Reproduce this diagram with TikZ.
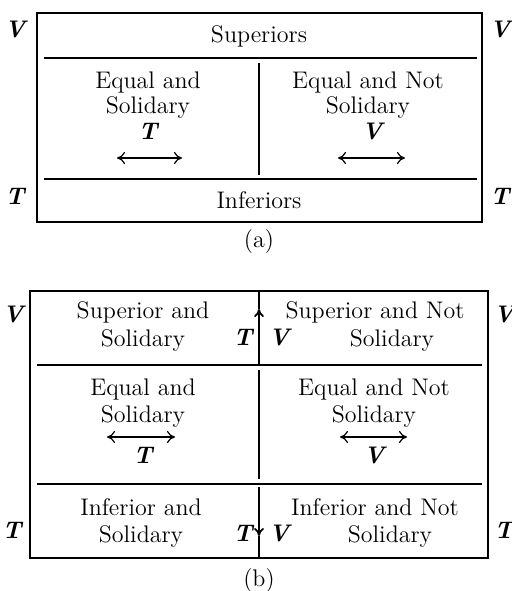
\documentclass[tikz,border=0pt]{standalone}
\usetikzlibrary{arrows.meta}

\begin{document}
\begin{tikzpicture}[
x=0.5pt, y=-0.5pt,
txt/.style={anchor=base, inner sep=0pt, font=\fontsize{12}{13}\selectfont},
letter/.style={anchor=base, inner sep=0pt, font=\fontsize{12}{13}\selectfont\bfseries\itshape},
rule/.style={line width=0.9pt},
arrow/.style={{To[length=4pt,width=6pt]}-{To[length=4pt,width=6pt]},line width=0.6pt},
varrow/.style={-{To[length=4pt,width=5pt]},line width=0.9pt} ]

\useasboundingbox (0,0) rectangle (512,591);

% (a)
\draw[rule] (37,13) rectangle (482,222);
\draw[rule] (44,58) -- (477,58);
\draw[rule] (44,179) -- (477,179);
\draw[rule] (259,63) -- (259,175);

\node[letter] (aVl) at (15,37) {V};
\node[letter] (aVr) at (500,37) {V};
\node[letter] (aTl) at (15,204) {T};
\node[letter] (aTr) at (500,204) {T};

\node[txt] (aSup) at (259,42) {Superiors};

\node[txt] (aEq1) at (148,88) {Equal and};
\node[txt] (aEq2) at (148,113) {Solidary};
\node[letter] (aEqT) at (148,139) {T};
\coordinate (aEqL) at (117,158);
\coordinate (aEqR) at (182,158);
\draw[arrow] (aEqL) -- (aEqR);

\node[txt] (aNot1) at (368,88) {Equal and Not};
\node[txt] (aNot2) at (368,113) {Solidary};
\node[letter] (aNotV) at (372,139) {V};
\coordinate (aNotL) at (338,158);
\coordinate (aNotR) at (405,158);
\draw[arrow] (aNotL) -- (aNotR);

\node[txt] (aInf) at (259,208) {Inferiors};
\node[txt] (aCap) at (259,247) {(a)};

% (b)
\draw[rule] (30,291) rectangle (488,558);
\draw[rule] (37,365) -- (482,365);
\draw[rule] (37,484) -- (482,484);

\coordinate (bTop) at (259,291);
\coordinate (bUp) at (259,309);
\coordinate (bH1) at (259,365);
\coordinate (bM1) at (259,370);
\coordinate (bM2) at (259,479);
\coordinate (bH2) at (259,487);
\coordinate (bDown) at (259,536);
\coordinate (bBot) at (259,558);
\draw[varrow] (bH1) -- (bUp);
\draw[rule] (bUp) -- (bTop);
\draw[rule] (bM1) -- (bM2);
\draw[varrow] (bH2) -- (bDown);
\draw[rule] (bDown) -- (bBot);

\node[letter] (bVl) at (13,322) {V};
\node[letter] (bVr) at (504,322) {V};
\node[letter] (bTl) at (12,538) {T};
\node[letter] (bTr) at (504,538) {T};

\node[txt] (bSup1) at (143,318) {Superior and};
\node[txt] (bSup2) at (143,346) {Solidary};
\node[letter] (bSupT) at (243,345) {T};
\node[letter] (bSupV) at (279,345) {V};
\node[txt] (bSupN1) at (375,318) {Superior and Not};
\node[txt] (bSupN2) at (392,346) {Solidary};

\node[txt] (bEq1) at (143,395) {Equal and};
\node[txt] (bEq2) at (143,422) {Solidary};
\coordinate (bEqL) at (107,437);
\coordinate (bEqR) at (175,437);
\draw[arrow] (bEqL) -- (bEqR);
\node[letter] (bEqT) at (143,463) {T};

\node[txt] (bEqN1) at (374,395) {Equal and Not};
\node[txt] (bEqN2) at (374,422) {Solidary};
\coordinate (bEqNL) at (340,437);
\coordinate (bEqNR) at (407,437);
\draw[arrow] (bEqNL) -- (bEqNR);
\node[letter] (bEqNV) at (374,463) {V};

\node[txt] (bInf1) at (141,515) {Inferior and};
\node[txt] (bInf2) at (141,542) {Solidary};
\node[letter] (bInfT) at (243,541) {T};
\node[letter] (bInfV) at (279,541) {V};
\node[txt] (bInfN1) at (375,515) {Inferior and Not};
\node[txt] (bInfN2) at (390,542) {Solidary};

\node[txt] (bCap) at (259,586) {(b)};

\end{tikzpicture}
\end{document}
